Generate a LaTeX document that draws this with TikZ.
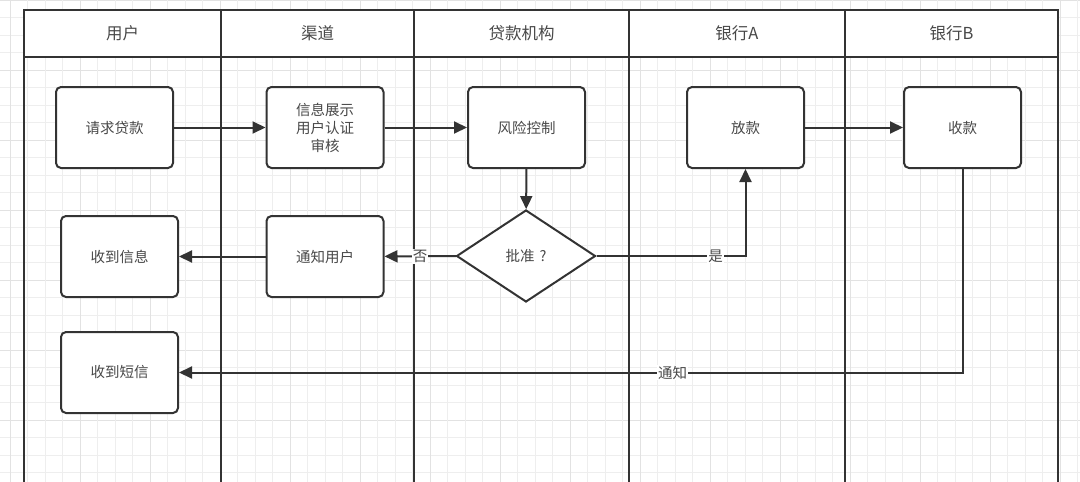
\documentclass[tikz,border=0pt]{standalone}
\usepackage{fontspec}
\setmainfont{Noto Sans CJK SC}
\usetikzlibrary{shapes.geometric,arrows.meta}
\definecolor{ln}{HTML}{333333}
\definecolor{tx}{HTML}{484848}
\definecolor{gmin}{HTML}{EEEEEE}
\definecolor{gmaj}{HTML}{E2E2E2}
\tikzset{
  procbox/.style={draw=ln, line width=2pt, fill=white, rounded corners=5pt,
    minimum width=117pt, minimum height=81pt, inner sep=0pt, text=tx,
    font=\fontsize{14.5}{18}\selectfont, align=center},
  decision/.style={draw=ln, line width=2pt, fill=white, diamond, aspect=1.5,
    minimum width=139pt, minimum height=92pt, inner sep=0pt, text=tx,
    font=\fontsize{14.5}{18}\selectfont},
  lane/.style={draw=ln, line width=2.5pt},
  head/.style={text=tx, font=\fontsize{16.5}{20}\selectfont, inner sep=0pt},
  conn/.style={draw=ln, line width=2pt, -{Triangle[length=13pt,width=12pt]}},
  lbl/.style={fill=white, text=tx, inner sep=1pt, font=\fontsize{14.5}{18}\selectfont}
}
\begin{document}
\begin{tikzpicture}[x=1pt,y=-1pt]
\useasboundingbox (0,0) rectangle (1080,482);
\begin{scope}
\clip (0,0) rectangle (1080,482);
% grid
\foreach \k in {0,...,28} {
  \pgfmathtruncatemacro{\m}{mod(\k,4)}
  \ifnum\m=0
    \draw[gmaj, line width=0.8pt] (0,\k*17.5) -- (1080,\k*17.5);
  \else
    \draw[gmin, line width=0.8pt] (0,\k*17.5) -- (1080,\k*17.5);
  \fi
}
\foreach \k in {0,...,62} {
  \pgfmathtruncatemacro{\m}{mod(\k,4)}
  \ifnum\m=0
    \draw[gmaj, line width=0.8pt] (10+\k*17.5,0) -- (10+\k*17.5,482);
  \else
    \draw[gmin, line width=0.8pt] (10+\k*17.5,0) -- (10+\k*17.5,482);
  \fi
}
% lanes
\fill[white] (24,10) rectangle (1058,57);
\draw[lane] (24,500) -- (24,10) -- (1058,10) -- (1058,500);
\draw[lane] (24,57) -- (1058,57);
\foreach \x in {221,414,629,845} \draw[lane] (\x,10) -- (\x,500);
\end{scope}
\node[head] (h1) at (122.5,33) {用户};
\node[head] (h2) at (317.5,33) {渠道};
\node[head] (h3) at (521.5,33) {贷款机构};
\node[head] (h4) at (737,33) {银行A};
\node[head] (h5) at (951.5,33) {银行B};
% nodes
\node[procbox] (req) at (114.5,127.5) {请求贷款};
\node[procbox] (info) at (325,127.5) {信息展示\\用户认证\\审核};
\node[procbox] (risk) at (526.5,127.5) {风险控制};
\node[procbox] (loan) at (745.5,127.5) {放款};
\node[procbox] (recvB) at (962.5,127.5) {收款};
\node[procbox] (recv) at (119.5,256.5) {收到信息};
\node[procbox] (notify) at (325,256.5) {通知用户};
\node[decision] (dia) at (526,256) {批准\hspace{5pt}?};
\node[procbox] (sms) at (119.5,372.5) {收到短信};
% connectors
\draw[conn] (req) -- (info);
\draw[conn] (info) -- (risk);
\draw[conn] (risk) -- (dia);
\draw[conn] (dia) -- node[lbl, pos=0.5] {否} (notify);
\draw[conn] (notify) -- (recv);
\draw[conn] (dia.east) -| node[lbl, pos=0.4] {是} (loan.south);
\draw[conn] (loan) -- (recvB);
\draw[conn] (recvB.south) |- node[lbl, pos=0.685] {通知} (sms.east);
\end{tikzpicture}
\end{document}
